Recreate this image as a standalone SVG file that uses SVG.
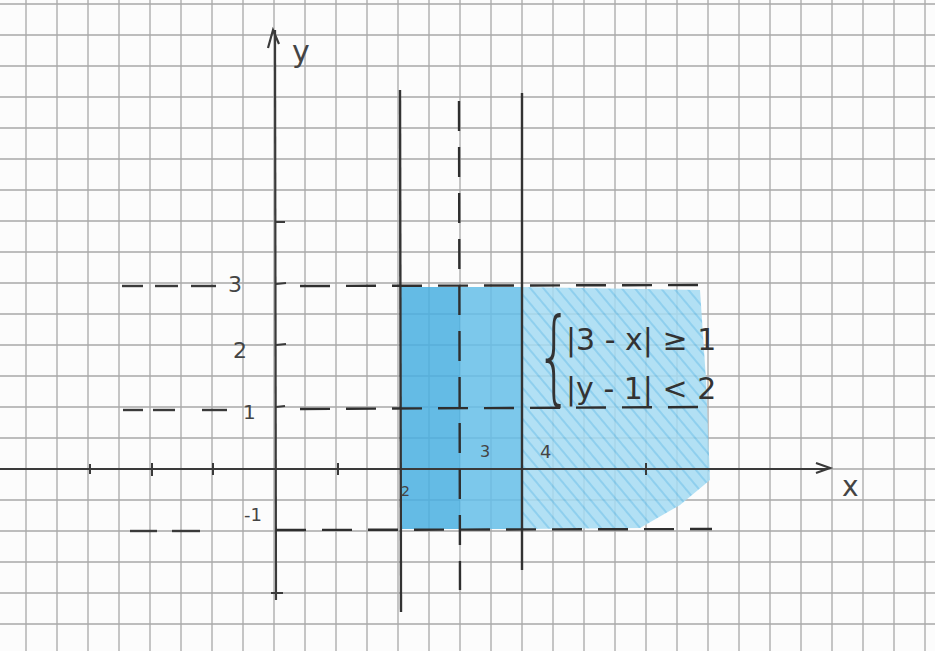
<svg xmlns="http://www.w3.org/2000/svg" width="935" height="651" viewBox="0 0 935 651">
<defs>
<style>
.grid line{stroke:#a8a8a8;stroke-width:1.3}
.ax{stroke:#3a3a3a;stroke-width:2.2;fill:none}
.sol{stroke:#333;stroke-width:2.4;fill:none}
.dash{stroke:#2e2e2e;stroke-width:2.4;fill:none;stroke-dasharray:30 16}
.seg{stroke:#3a3a3a;stroke-width:2.4}
.tick{stroke:#3a3a3a;stroke-width:2}
.lab{font-family:"DejaVu Sans",sans-serif;fill:#444}
.eq{font-family:"DejaVu Sans",sans-serif;fill:#333;font-size:30px}
</style>
<pattern id="hatch" width="10" height="10" patternUnits="userSpaceOnUse" patternTransform="rotate(-40)">
<rect width="10" height="10" fill="#a6dcf3"/>
<line x1="0" y1="0" x2="0" y2="10" stroke="#7cc8ec" stroke-width="4"/>
</pattern>
</defs>
<rect width="935" height="651" fill="#fcfcfc"/>
<g class="grid" id="grid">
<line x1="26" y1="0" x2="26" y2="651"/><line x1="57" y1="0" x2="57" y2="651"/><line x1="88" y1="0" x2="88" y2="651"/><line x1="119" y1="0" x2="119" y2="651"/><line x1="150" y1="0" x2="150" y2="651"/><line x1="181" y1="0" x2="181" y2="651"/><line x1="212" y1="0" x2="212" y2="651"/><line x1="243" y1="0" x2="243" y2="651"/><line x1="274" y1="0" x2="274" y2="651"/><line x1="305" y1="0" x2="305" y2="651"/><line x1="336" y1="0" x2="336" y2="651"/><line x1="367" y1="0" x2="367" y2="651"/><line x1="398" y1="0" x2="398" y2="651"/><line x1="429" y1="0" x2="429" y2="651"/><line x1="460" y1="0" x2="460" y2="651"/><line x1="491" y1="0" x2="491" y2="651"/><line x1="522" y1="0" x2="522" y2="651"/><line x1="553" y1="0" x2="553" y2="651"/><line x1="584" y1="0" x2="584" y2="651"/><line x1="615" y1="0" x2="615" y2="651"/><line x1="646" y1="0" x2="646" y2="651"/><line x1="677" y1="0" x2="677" y2="651"/><line x1="708" y1="0" x2="708" y2="651"/><line x1="739" y1="0" x2="739" y2="651"/><line x1="770" y1="0" x2="770" y2="651"/><line x1="801" y1="0" x2="801" y2="651"/><line x1="832" y1="0" x2="832" y2="651"/><line x1="863" y1="0" x2="863" y2="651"/><line x1="894" y1="0" x2="894" y2="651"/><line x1="925" y1="0" x2="925" y2="651"/>
<line x1="0" y1="4" x2="935" y2="4"/><line x1="0" y1="35" x2="935" y2="35"/><line x1="0" y1="66" x2="935" y2="66"/><line x1="0" y1="97" x2="935" y2="97"/><line x1="0" y1="128" x2="935" y2="128"/><line x1="0" y1="159" x2="935" y2="159"/><line x1="0" y1="190" x2="935" y2="190"/><line x1="0" y1="221" x2="935" y2="221"/><line x1="0" y1="252" x2="935" y2="252"/><line x1="0" y1="283" x2="935" y2="283"/><line x1="0" y1="314" x2="935" y2="314"/><line x1="0" y1="345" x2="935" y2="345"/><line x1="0" y1="376" x2="935" y2="376"/><line x1="0" y1="407" x2="935" y2="407"/><line x1="0" y1="438" x2="935" y2="438"/><line x1="0" y1="469" x2="935" y2="469"/><line x1="0" y1="500" x2="935" y2="500"/><line x1="0" y1="531" x2="935" y2="531"/><line x1="0" y1="562" x2="935" y2="562"/><line x1="0" y1="593" x2="935" y2="593"/><line x1="0" y1="624" x2="935" y2="624"/>
</g>
<g id="shading" opacity="0.85">
<rect x="400" y="287" width="60" height="242" fill="#4ab0e2"/>
<rect x="460" y="287" width="62" height="242" fill="#66bfe9"/>
<polygon points="522,287 700,290 706,380 710,480 680,505 640,528 522,529" fill="url(#hatch)"/>
</g>
<g id="connectors">
<g id="axes">
<line class="ax" x1="0" y1="469" x2="828" y2="469"/>
<polyline class="ax" points="816,463 830,468 816,473"/>
<line class="ax" x1="275" y1="30" x2="276" y2="600"/>
<polyline class="ax" points="268,48 273,30 279,44"/>
</g>
<g id="ticks">
<line class="tick" x1="90" y1="464" x2="90" y2="474"/><line class="tick" x1="152" y1="463" x2="152" y2="476"/><line class="tick" x1="213" y1="463" x2="213" y2="475"/><line class="tick" x1="338" y1="463" x2="338" y2="475"/><line class="tick" x1="646" y1="463" x2="646" y2="475"/>
<line class="tick" x1="276" y1="222" x2="285" y2="222"/><line class="tick" x1="276" y1="284" x2="286" y2="283"/><line class="tick" x1="276" y1="345" x2="286" y2="344"/><line class="tick" x1="276" y1="407" x2="285" y2="406"/><line class="tick" x1="271" y1="593" x2="283" y2="593"/>
</g>
<g id="verticals">
<line class="sol" x1="400" y1="90" x2="401" y2="612"/>
<line class="dash" x1="459" y1="101" x2="460" y2="590" stroke-dasharray="30 28"/>
<line class="sol" x1="522" y1="93" x2="522" y2="570"/>
</g>
<g id="horizontals">
<line class="seg" x1="122" y1="286" x2="143" y2="286"/><line class="seg" x1="155" y1="286" x2="178" y2="286"/><line class="seg" x1="191" y1="286" x2="216" y2="286"/>
<line class="dash" x1="300" y1="286" x2="705" y2="285"/>
<line class="seg" x1="123" y1="410" x2="143" y2="410"/><line class="seg" x1="153" y1="410" x2="175" y2="410"/><line class="seg" x1="202" y1="410" x2="227" y2="410"/>
<line class="dash" x1="300" y1="409" x2="705" y2="407"/>
<line class="seg" x1="130" y1="531" x2="157" y2="531"/><line class="seg" x1="172" y1="531" x2="200" y2="531"/>
<line class="dash" x1="276" y1="530" x2="712" y2="529"/>
</g>
</g>
<g id="labels">
<text class="lab" x="292" y="62" font-size="30">y</text>
<text class="lab" x="842" y="496" font-size="28">x</text>
<text class="lab" x="228" y="292" font-size="22">3</text>
<text class="lab" x="233" y="358" font-size="22">2</text>
<text class="lab" x="243" y="419" font-size="20">1</text>
<text class="lab" x="244" y="521" font-size="18">-1</text>
<text class="lab" x="401" y="496" font-size="14">2</text>
<text class="lab" x="480" y="457" font-size="16">3</text>
<text class="lab" x="540" y="458" font-size="18">4</text>
</g>
<g id="system">
<text class="eq" transform="translate(536,392) scale(0.55,1)" style="font-size:104px;font-weight:200">{</text>
<text class="eq" x="566" y="350">|3 - x| ≥ 1</text>
<text class="eq" x="566" y="399">|y - 1| &lt; 2</text>
</g>
</svg>
